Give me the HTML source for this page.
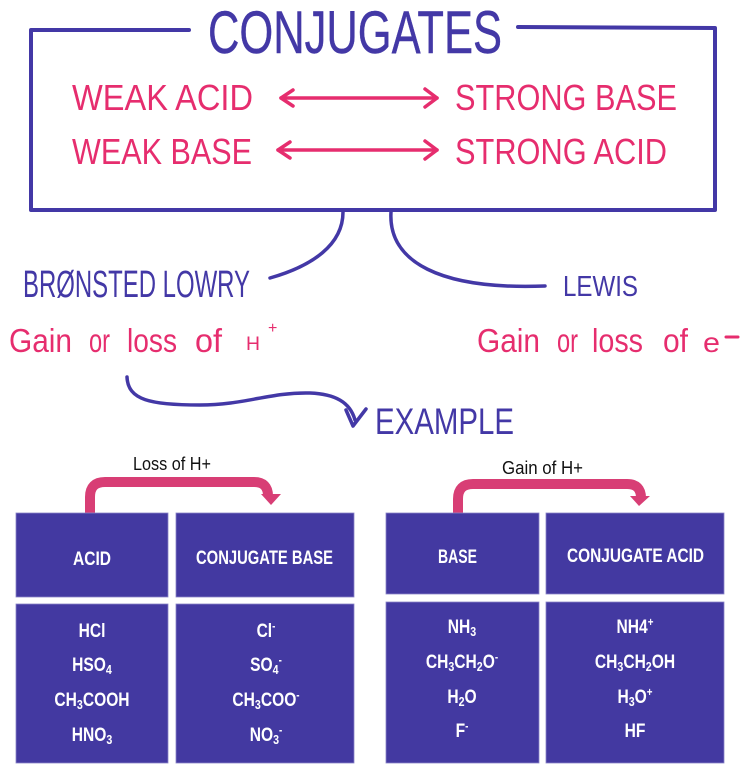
<!DOCTYPE html>
<html>
<head>
<meta charset="utf-8">
<style>
  html, body { margin:0; padding:0; background:#ffffff; }
  svg { display:block; }
  .hand { font-family: "Liberation Sans", "DejaVu Sans", sans-serif; }
  .cell { font-family: "Liberation Sans", "DejaVu Sans", sans-serif; font-weight:bold; fill:#ffffff; font-size:19px; }
</style>
</head>
<body>
<svg width="743" height="771" viewBox="0 0 743 771" xmlns="http://www.w3.org/2000/svg">
  <rect x="0" y="0" width="743" height="771" fill="#ffffff"/>

  <!-- Top box -->
  <path d="M189,30 L31,30 L31,210 L715,210 L715,28 L518,27" fill="none" stroke="#4338a6" stroke-width="4" stroke-linecap="round" stroke-linejoin="round"/>
  <text class="hand" x="208" y="53" font-size="60" textLength="294" lengthAdjust="spacingAndGlyphs" fill="#4338a6" stroke="#4338a6" stroke-width="0.4">CONJUGATES</text>

  <!-- pink rows -->
  <g class="hand" fill="#e62d6e">
    <text x="72" y="110" font-size="36" textLength="181" lengthAdjust="spacingAndGlyphs">WEAK ACID</text>
    <text x="72" y="164" font-size="36" textLength="180" lengthAdjust="spacingAndGlyphs">WEAK BASE</text>
    <text x="455" y="110" font-size="36" textLength="222" lengthAdjust="spacingAndGlyphs">STRONG BASE</text>
    <text x="455" y="164" font-size="36" textLength="212" lengthAdjust="spacingAndGlyphs">STRONG ACID</text>
  </g>
  <g fill="none" stroke="#e62d6e" stroke-width="3.5" stroke-linecap="round" stroke-linejoin="round">
    <path d="M281,98 L437,98"/>
    <path d="M293,90 L281,98 L293,106"/>
    <path d="M425,89 L437,98 L425,107"/>
    <path d="M278,150 L437,150"/>
    <path d="M290,142 L278,150 L290,158"/>
    <path d="M425,141 L437,150 L425,159"/>
  </g>

  <!-- connectors -->
  <g fill="none" stroke="#4338a6" stroke-width="3.5" stroke-linecap="round">
    <path d="M343,212 C343,245 312,266 270,278"/>
    <path d="M391,212 C388,262 440,290 545,286"/>
    <path d="M127,377 C128,400 150,405 200,405 C245,405 270,392 310,393 C335,394 350,402 355,420"/>
    <path d="M346,410 L353,426 L366,409" stroke-linejoin="round"/>
  </g>

  <!-- purple handwriting -->
  <g class="hand" fill="#4338a6">
    <text x="23" y="297" font-size="38" textLength="227" lengthAdjust="spacingAndGlyphs">BRØNSTED LOWRY</text>
    <text x="563" y="296" font-size="29" textLength="75" lengthAdjust="spacingAndGlyphs">LEWIS</text>
    <text x="375" y="434" font-size="37" textLength="139" lengthAdjust="spacingAndGlyphs">EXAMPLE</text>
  </g>

  <!-- pink "Gain or loss" -->
  <g class="hand" fill="#e62d6e" font-size="33">
    <text x="9" y="352" textLength="63" lengthAdjust="spacingAndGlyphs">Gain</text>
    <text x="89" y="352" textLength="21" lengthAdjust="spacingAndGlyphs">or</text>
    <text x="127" y="352" textLength="50" lengthAdjust="spacingAndGlyphs">loss</text>
    <text x="195" y="352" textLength="27" lengthAdjust="spacingAndGlyphs">of</text>
    <text x="246" y="350" font-size="19" textLength="14" lengthAdjust="spacingAndGlyphs">H</text>
    <text x="268" y="333" font-size="16">+</text>

    <text x="477" y="352" textLength="63" lengthAdjust="spacingAndGlyphs">Gain</text>
    <text x="557" y="352" textLength="21" lengthAdjust="spacingAndGlyphs">or</text>
    <text x="592" y="352" textLength="51" lengthAdjust="spacingAndGlyphs">loss</text>
    <text x="663" y="352" textLength="25" lengthAdjust="spacingAndGlyphs">of</text>
    <text x="703" y="352" font-size="28" textLength="17" lengthAdjust="spacingAndGlyphs">e</text>
  </g>
  <path d="M726,337 L738,337" stroke="#e62d6e" stroke-width="3" stroke-linecap="round"/>

  <!-- Table labels -->
  <text x="133" y="470" font-family="Liberation Sans, sans-serif" font-size="18" fill="#111111" textLength="78" lengthAdjust="spacingAndGlyphs">Loss of H+</text>
  <text x="502" y="474" font-family="Liberation Sans, sans-serif" font-size="18" fill="#111111" textLength="81" lengthAdjust="spacingAndGlyphs">Gain of H+</text>

  <!-- pink elbow arrows -->
  <g fill="none" stroke="#d83e75" stroke-width="10">
    <path d="M90,514 V497 Q90,482 105,482 H254 Q268,482 268,496"/>
    <path d="M458,514 V499 Q458,484 473,484 H627 Q641,484 641,498"/>
  </g>
  <polygon points="261,494 281,494 271,505" fill="#d83e75"/>
  <polygon points="630,496 650,496 639,506" fill="#d83e75"/>

  <!-- Table boxes -->
  <g fill="#4339a1" stroke="#8a84c8" stroke-width="0.8">
    <rect x="16" y="513" width="152" height="84"/>
    <rect x="176" y="513" width="178" height="84"/>
    <rect x="16" y="604" width="152" height="159"/>
    <rect x="176" y="604" width="178" height="159"/>
    <rect x="386" y="513" width="153" height="81"/>
    <rect x="546" y="513" width="178" height="81"/>
    <rect x="386" y="602" width="153" height="161"/>
    <rect x="546" y="602" width="178" height="161"/>
  </g>

  <!-- Headers -->
  <g class="cell">
    <text x="73" y="565" textLength="38" lengthAdjust="spacingAndGlyphs">ACID</text>
    <text x="196" y="564" textLength="137" lengthAdjust="spacingAndGlyphs">CONJUGATE BASE</text>
    <text x="438" y="563" textLength="39" lengthAdjust="spacingAndGlyphs">BASE</text>
    <text x="567" y="562" textLength="137" lengthAdjust="spacingAndGlyphs">CONJUGATE ACID</text>
  </g>

  <!-- Body: left table -->
  <g class="cell" text-anchor="middle">
    <g transform="translate(92,637) scale(0.82,1)"><text x="0" y="0">HCl</text></g>
    <g transform="translate(92,671) scale(0.82,1)"><text x="0" y="0">HSO<tspan font-size="13" dy="3">4</tspan></text></g>
    <g transform="translate(92,706) scale(0.82,1)"><text x="0" y="0">CH<tspan font-size="13" dy="3">3</tspan><tspan dy="-3">COOH</tspan></text></g>
    <g transform="translate(92,741) scale(0.82,1)"><text x="0" y="0">HNO<tspan font-size="13" dy="3">3</tspan></text></g>

    <g transform="translate(266,637) scale(0.82,1)"><text x="0" y="0">Cl<tspan font-size="12" dy="-7">-</tspan></text></g>
    <g transform="translate(266,671) scale(0.82,1)"><text x="0" y="0">SO<tspan font-size="13" dy="3">4</tspan><tspan font-size="12" dy="-10">-</tspan></text></g>
    <g transform="translate(266,706) scale(0.82,1)"><text x="0" y="0">CH<tspan font-size="13" dy="3">3</tspan><tspan dy="-3">COO</tspan><tspan font-size="12" dy="-7">-</tspan></text></g>
    <g transform="translate(266,741) scale(0.82,1)"><text x="0" y="0">NO<tspan font-size="13" dy="3">3</tspan><tspan font-size="12" dy="-10">-</tspan></text></g>
  </g>

  <!-- Body: right table -->
  <g class="cell" text-anchor="middle">
    <g transform="translate(462,633) scale(0.82,1)"><text x="0" y="0">NH<tspan font-size="13" dy="3">3</tspan></text></g>
    <g transform="translate(462,668) scale(0.82,1)"><text x="0" y="0">CH<tspan font-size="13" dy="3">3</tspan><tspan dy="-3">CH</tspan><tspan font-size="13" dy="3">2</tspan><tspan dy="-3">O</tspan><tspan font-size="12" dy="-7">-</tspan></text></g>
    <g transform="translate(462,703) scale(0.82,1)"><text x="0" y="0">H<tspan font-size="13" dy="3">2</tspan><tspan dy="-3">O</tspan></text></g>
    <g transform="translate(462,737) scale(0.82,1)"><text x="0" y="0">F<tspan font-size="12" dy="-7">-</tspan></text></g>

    <g transform="translate(635,633) scale(0.82,1)"><text x="0" y="0">NH4<tspan font-size="12" dy="-7">+</tspan></text></g>
    <g transform="translate(635,668) scale(0.82,1)"><text x="0" y="0">CH<tspan font-size="13" dy="3">3</tspan><tspan dy="-3">CH</tspan><tspan font-size="13" dy="3">2</tspan><tspan dy="-3">OH</tspan></text></g>
    <g transform="translate(635,703) scale(0.82,1)"><text x="0" y="0">H<tspan font-size="13" dy="3">3</tspan><tspan dy="-3">O</tspan><tspan font-size="12" dy="-7">+</tspan></text></g>
    <g transform="translate(635,737) scale(0.82,1)"><text x="0" y="0">HF</text></g>
  </g>
</svg>
</body>
</html>
